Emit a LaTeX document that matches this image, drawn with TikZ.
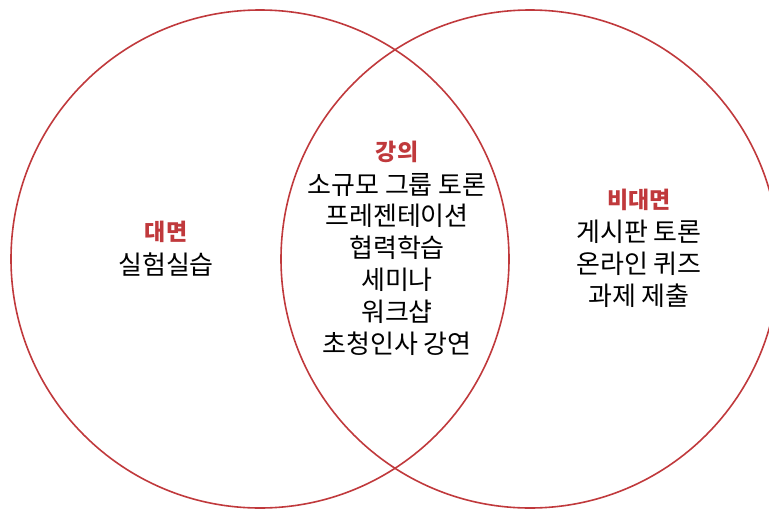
\documentclass[tikz,border=0pt]{standalone}
\usepackage{fontspec}
\newfontfamily\krfont{Noto Sans CJK KR}
\definecolor{vred}{RGB}{192,57,60}
\begin{document}
\begin{tikzpicture}[x=1pt,y=-1pt,
  ring/.style={draw=vred,line width=1.6pt},
  head/.style={font=\krfont\bfseries\fontsize{23}{25}\selectfont,text=vred,inner sep=0pt},
  item/.style={font=\krfont\fontsize{26}{28}\selectfont,text=black,inner sep=0pt}]
\useasboundingbox (0,0) rectangle (769,509);
\clip (0,0) rectangle (769,509);
\node[ring,circle,minimum size=498pt,inner sep=0pt] (left) at (260,259) {};
\node[ring,circle,minimum size=498pt,inner sep=0pt] (right) at (530,259) {};
% left
\node[head] (h1) at (166,232) {대면};
\node[item] (l1) at (166,265) {실험실습};
% middle
\node[head] (h2) at (397,152) {강의};
\node[item] (m1) at (397,185) {소규모 그룹 토론};
\node[item] (m2) at (397,216) {프레젠테이션};
\node[item] (m3) at (397,248) {협력학습};
\node[item] (m4) at (397,280) {세미나};
\node[item] (m5) at (397,312) {워크샵};
\node[item] (m6) at (397,344) {초청인사 강연};
% right
\node[head] (h3) at (639,200) {비대면};
\node[item] (r1) at (639,232) {게시판 토론};
\node[item] (r2) at (639,264) {온라인 퀴즈};
\node[item] (r3) at (639,296) {과제 제출};
\end{tikzpicture}
\end{document}
